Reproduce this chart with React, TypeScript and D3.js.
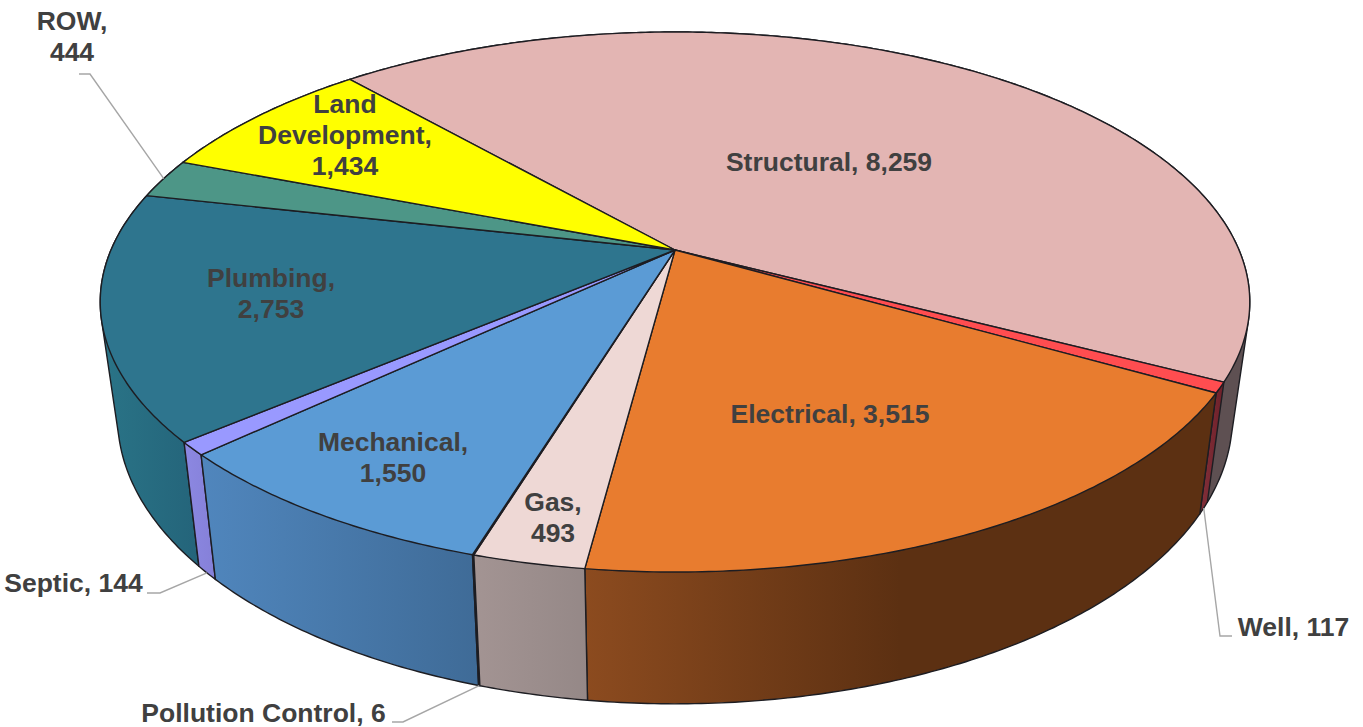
import React from "react";
import * as d3 from "d3";

const categories = ["Structural", "Well", "Electrical", "Gas", "Pollution Control", "Mechanical", "Septic", "Plumbing", "ROW", "Land Development"];
const values = [8259, 117, 3515, 493, 6, 1550, 144, 2753, 444, 1434];

const topColors = ["#E3B5B3", "#FF4D50", "#E87C2F", "#EED8D5", "#B7A5A3", "#5B9BD5", "#9999FF", "#2E758E", "#4D9687", "#FFFF00"];
const sideFrom = ["#5E5052", "#83303A", "#8C4B1F", "#A39493", "#8E8180", "#5086BD", "#8C88E2", "#2A7487", "#3F7A6E", "#999900"];
const sideTo = ["#5E5052", "#6E2029", "#5C3012", "#958887", "#8E8180", "#3F6B97", "#8580D8", "#24647A", "#3F7A6E", "#999900"];
const sideStop = [1, 1, 0.5, 1, 1, 1, 1, 1, 1, 1];

const labelLines = [
  ["Structural, 8,259"],
  ["Well, 117"],
  ["Electrical, 3,515"],
  ["Gas,", "493"],
  ["Pollution Control, 6"],
  ["Mechanical,", "1,550"],
  ["Septic, 144"],
  ["Plumbing,", "2,753"],
  ["ROW,", "444"],
  ["Land", "Development,", "1,434"],
];
const labelX = [829, 1293.5, 830, 553, 263.5, 393, 73.5, 271, 72, 345];
const labelY = [171, 636, 423, 511, 722, 451, 592, 287, 30, 113];
const labelGap = 31;

// elbow of each leader line: [text end x, elbow x, y]; null where the label sits on the slice
const leaderElbows: ([number, number, number] | null)[] = [
  null, [1232, 1220, 636], null, null, [392, 403, 722], null, [147, 160, 593], null, [79, 90, 74], null,
];

const WIDTH = 1363;
const HEIGHT = 727;
const START_DEG = -41.3;
const K = -0.1926;
const topRing = { cx: 675, cy: 250, a: 564, b: 260 };
const baseRing = { cx: 675, cy: 362, a: 547, b: 276 };

type Ring = typeof topRing;
const project = (r: Ring, angle: number): [number, number] => {
  const X = Math.sin(angle);
  const Y = -Math.cos(angle);
  const w = 1 + K * Y;
  return [r.cx + (r.a * X) / w, r.cy + (r.b * Y) / w];
};

const samples = (a0: number, a1: number) => {
  const n = Math.max(2, Math.ceil(Math.abs(a1 - a0) / 0.01));
  return d3.range(n + 1).map((i) => a0 + ((a1 - a0) * i) / n);
};

const pie = d3
  .pie<number>()
  .value((d) => d)
  .sort(null)
  .startAngle((START_DEG * Math.PI) / 180)
  .endAngle((START_DEG * Math.PI) / 180 + 2 * Math.PI);
const path = d3.line<[number, number]>();
const arcs = pie(values);

// back to front, so the nearest side walls land on top
const paintOrder = [0, 9, 8, 7, 1, 2, 6, 5, 4, 3];

export default function App() {
  return (
    <svg width={WIDTH} height={HEIGHT} style={{ position: "absolute", left: 0, top: 0, display: "block", background: "#fff" }}>
      <defs>
        {categories.map((c, i) => (
          <linearGradient key={c} id={`side-${i}`} x1="0" x2="1" y1="0" y2="0">
            <stop offset="0" stopColor={sideFrom[i]} />
            <stop offset={sideStop[i]} stopColor={sideTo[i]} />
          </linearGradient>
        ))}
      </defs>
      <g>
        {paintOrder.map((i) => {
          const s = samples(arcs[i].startAngle, arcs[i].endAngle);
          const hull = d3.polygonHull([...s.map((a) => project(topRing, a)), ...s.map((a) => project(baseRing, a))]);
          return <path key={i} d={path(hull!) + "Z"} fill={`url(#side-${i})`} stroke="#1d1d22" strokeWidth={1.4} strokeLinejoin="round" />;
        })}
      </g>
      <g>
        {arcs.map((arc, i) => {
          const pts: [number, number][] = [[topRing.cx, topRing.cy], ...samples(arc.startAngle, arc.endAngle).map((a) => project(topRing, a))];
          return <path key={i} d={path(pts) + "Z"} fill={topColors[i]} stroke="#1d1d22" strokeWidth={1.4} strokeLinejoin="round" />;
        })}
      </g>
      <g fill="none" stroke="#A6A6A6" strokeWidth={1.4}>
        {arcs.map((arc, i) => {
          const e = leaderElbows[i];
          if (!e) return null;
          const mid = (arc.startAngle + arc.endAngle) / 2;
          const ring = categories[i] === "ROW" ? topRing : baseRing;
          const pts: [number, number][] = [[e[0], e[2]], [e[1], e[2]], project(ring, mid)];
          return <path key={i} d={path(pts)!} />;
        })}
      </g>
      <g fontFamily="'Liberation Sans', Arial, sans-serif" fontWeight="bold" fontSize={26.5} fill="#404040" textAnchor="middle">
        {labelLines.map((lines, i) => (
          <text key={i} x={labelX[i]} y={labelY[i]}>
            {lines.map((l, j) => (
              <tspan key={j} x={labelX[i]} dy={j === 0 ? 0 : labelGap}>
                {l}
              </tspan>
            ))}
          </text>
        ))}
      </g>
    </svg>
  );
}
